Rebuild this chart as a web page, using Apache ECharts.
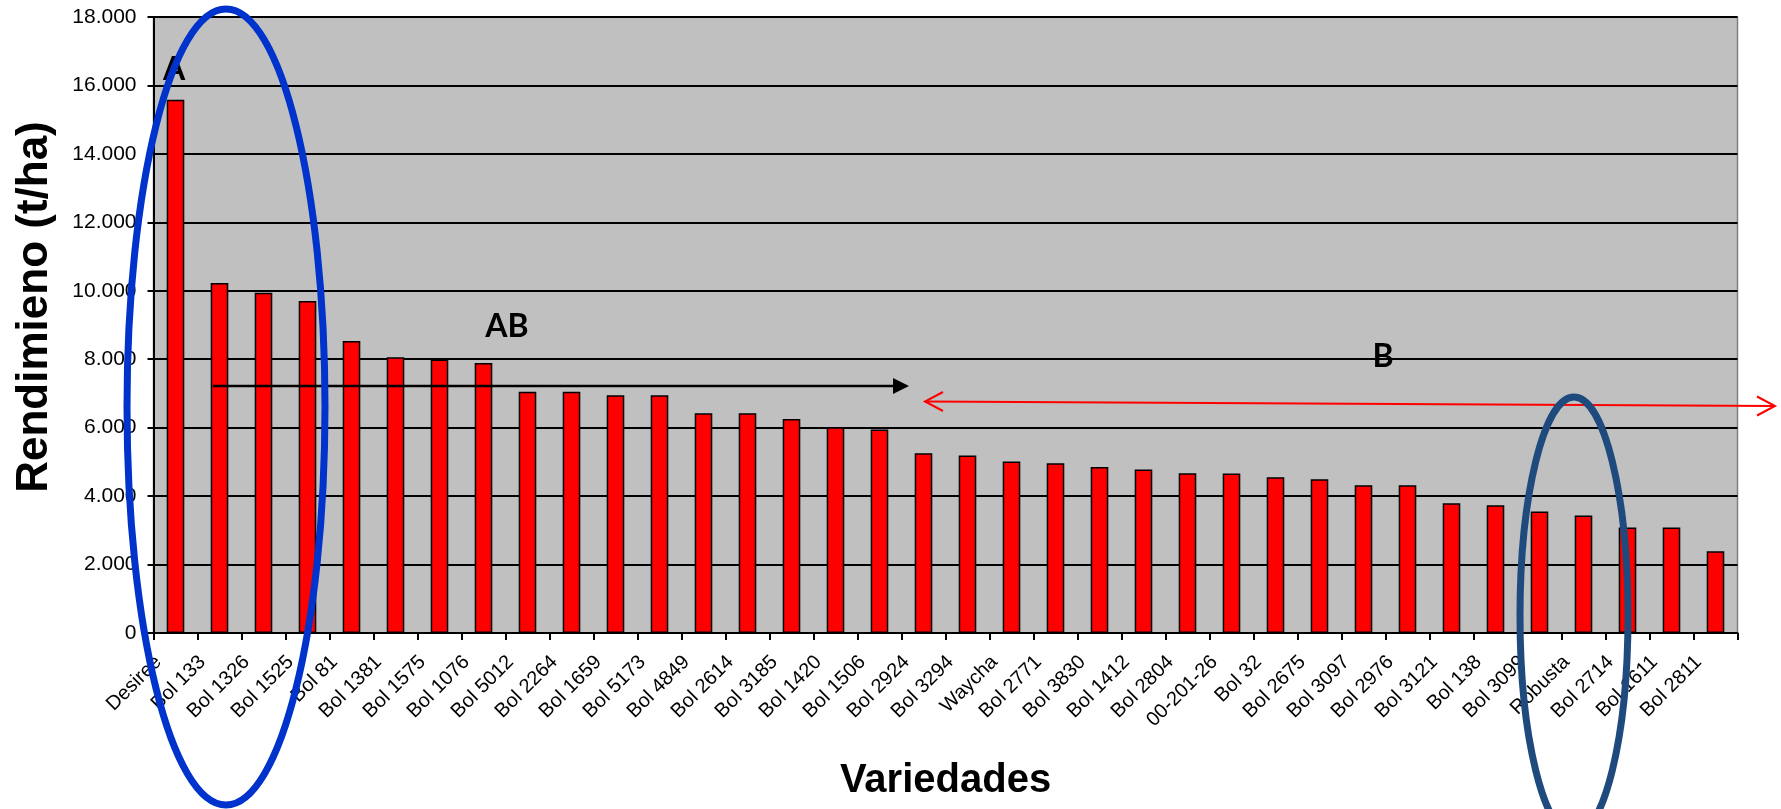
<!DOCTYPE html>
<html>
<head>
<meta charset="utf-8">
<script src="https://cdn.jsdelivr.net/npm/echarts@6/dist/echarts.min.js"></script>
<style>
  html, body { margin: 0; padding: 0; background: #ffffff; }
  #chart { width: 1781px; height: 809px; }
</style>
</head>
<body>
<div id="chart"></div>
<script>
// Potato varieties and their yield (t/ha), sorted from highest to lowest
const variedades = [
  'Desiree', 'Bol 133', 'Bol 1326', 'Bol 1525', 'Bol 81', 'Bol 1381', 'Bol 1575', 'Bol 1076',
  'Bol 5012', 'Bol 2264', 'Bol 1659', 'Bol 5173', 'Bol 4849', 'Bol 2614', 'Bol 3185', 'Bol 1420',
  'Bol 1506', 'Bol 2924', 'Bol 3294', 'Waycha', 'Bol 2771', 'Bol 3830', 'Bol 1412', 'Bol 2804',
  '00-201-26', 'Bol 32', 'Bol 2675', 'Bol 3097', 'Bol 2976', 'Bol 3121', 'Bol 138', 'Bol 3099',
  'Robusta', 'Bol 2714', 'Bol 1611', 'Bol 2811'
];
const rendimiento = [
  15580, 10230, 9940, 9700, 8530, 8060, 7990, 7890,
  7050, 7050, 6950, 6950, 6420, 6420, 6250, 6010,
  5950, 5250, 5190, 5010, 4960, 4850, 4780, 4670,
  4660, 4550, 4490, 4320, 4320, 3790, 3730, 3550,
  3430, 3080, 3080, 2390
];
// Value axis range and step
const yMin = 0;
const yMax = 18000;
const yStep = 2000;

// Group labels drawn on the plot
const grupos = ['A', 'AB', 'B'];

// Spanish thousands separator: 18000 -> "18.000"
function miles(v) {
  return String(v).replace(/\B(?=(\d{3})+(?!\d))/g, '.');
}

const chart = echarts.init(document.getElementById('chart'), null, { renderer: 'canvas' });

const FONT = '"Liberation Sans", Arial, sans-serif';
const NOTE_FONT = 'Lato, "Open Sans", sans-serif';

const option = {
  animation: false,
  backgroundColor: '#ffffff',
  grid: {
    left: 153.5, right: 43.5, top: 17, bottom: 176,
    show: true,
    backgroundColor: '#C0C0C0',
    borderColor: '#808080',
    borderWidth: 1.5
  },
  xAxis: {
    type: 'category',
    data: variedades,
    name: 'Variedades',
    nameLocation: 'middle',
    nameGap: 128,
    nameTextStyle: { fontFamily: FONT, fontSize: 40, fontWeight: 'bold', color: '#000' },
    axisLine: { show: true, lineStyle: { color: '#000', width: 2 } },
    axisTick: { show: true, length: 7, lineStyle: { color: '#000', width: 2 } },
    axisLabel: {
      interval: 0, rotate: 45, margin: 9,
      padding: [0, 24, 0, 0],
      fontFamily: FONT, fontSize: 20, color: '#000'
    }
  },
  yAxis: {
    type: 'value',
    min: yMin, max: yMax, interval: yStep,
    name: 'Rendimieno (t/ha)',
    nameLocation: 'middle',
    nameGap: 97,
    nameTextStyle: { fontFamily: FONT, fontSize: 44, fontWeight: 'bold', color: '#000', padding: [0, 0, 0, 36] },
    axisLine: { show: true, lineStyle: { color: '#000', width: 2 } },
    axisTick: { show: true, length: 6, lineStyle: { color: '#000', width: 2 } },
    splitLine: { show: true, lineStyle: { color: '#000', width: 2 } },
    axisLabel: {
      margin: 17, fontFamily: FONT, fontSize: 21, color: '#000',
      formatter: miles
    }
  },
  series: [{
    type: 'bar',
    data: rendimiento,
    barCategoryGap: '60%',
    itemStyle: { color: '#FF0000', borderColor: '#000000', borderWidth: 1.5 }
  }],
  graphic: [
    // group letters
    { type: 'text', z: 100, x: 174, y: 70,
      style: { text: grupos[0], font: 'bold 32px ' + NOTE_FONT, fill: '#000', align: 'center', verticalAlign: 'middle' } },
    { type: 'text', z: 100, x: 507, y: 327,
      style: { text: grupos[1], font: 'bold 32px ' + NOTE_FONT, fill: '#000', align: 'center', verticalAlign: 'middle' } },
    { type: 'text', z: 100, x: 1383, y: 357,
      style: { text: grupos[2], font: 'bold 32px ' + NOTE_FONT, fill: '#000', align: 'center', verticalAlign: 'middle' } },
    // AB range arrow
    { type: 'line', z: 100, shape: { x1: 213, y1: 386, x2: 896, y2: 386 },
      style: { stroke: '#000', lineWidth: 2.5 } },
    { type: 'polygon', z: 100, shape: { points: [[893, 378], [909, 386], [893, 394]] },
      style: { fill: '#000' } },
    // B range double arrow
    { type: 'line', z: 100, shape: { x1: 925, y1: 401.5, x2: 1775, y2: 406 },
      style: { stroke: '#FF0000', lineWidth: 2 } },
    { type: 'polyline', z: 100, shape: { points: [[943, 392], [925, 401.5], [943, 411]] },
      style: { stroke: '#FF0000', lineWidth: 2, fill: null } },
    { type: 'polyline', z: 100, shape: { points: [[1757, 396.5], [1775, 406], [1757, 415.5]] },
      style: { stroke: '#FF0000', lineWidth: 2, fill: null } },
    // highlight rings
    { type: 'ellipse', z: 101, shape: { cx: 226, cy: 407, rx: 99, ry: 398 },
      style: { fill: null, stroke: '#0033CC', lineWidth: 7 } },
    { type: 'ellipse', z: 101, shape: { cx: 1574, cy: 616, rx: 54, ry: 219 },
      style: { fill: null, stroke: '#1F4A7E', lineWidth: 7 } }
  ]
};

chart.setOption(option);
</script>
</body>
</html>
